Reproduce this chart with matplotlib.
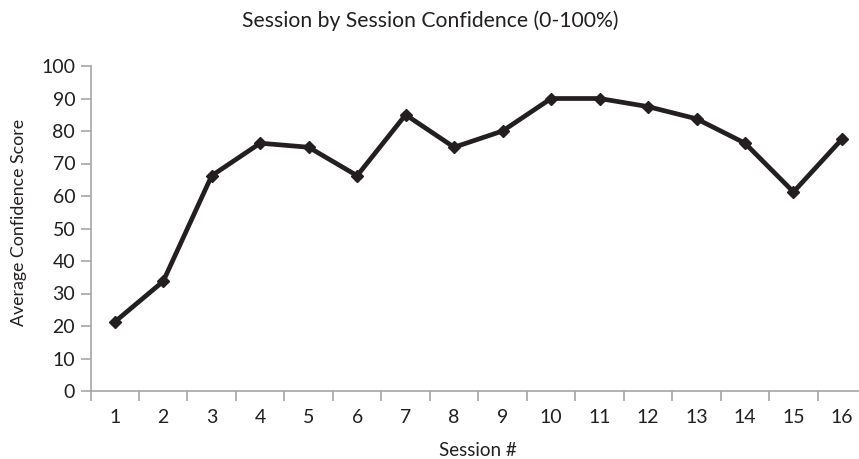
import matplotlib
matplotlib.use("Agg")
import matplotlib.pyplot as plt
import numpy as np

sessions = list(range(1, 17))
session_labels = [str(s) for s in sessions]
confidence = [21.25, 33.75, 66.25, 76.25, 75, 66.25, 85, 75, 80, 90, 90, 87.5, 83.75, 76.25, 61.25, 77.5]
y_ticks = list(range(0, 101, 10))

plt.rcParams['font.family'] = ['Lato', 'DejaVu Sans']
text_color = '#231f20'
spine_color = '#a6a6a6'

W, H = 859, 459
fig = plt.figure(figsize=(W / 100, H / 100), dpi=100)
ax = fig.add_axes([90.5 / W, 1 - 391 / H, 775.7 / W, 325 / H])

ax.plot(sessions, confidence, color='#231f20', linewidth=3.4, marker='D', markersize=6.5,
        solid_joinstyle='miter', clip_on=False)

ax.set_xlim(0.5, 16.5)
ax.set_ylim(0, 100)
ax.set_yticks(y_ticks)
ax.set_yticklabels([str(v) for v in y_ticks])
ax.set_xticks(sessions)
ax.set_xticklabels(session_labels)
ax.set_xticks(np.arange(0.5, 17, 1), minor=True)

for s in ['top', 'right']:
    ax.spines[s].set_visible(False)
for s in ['left', 'bottom']:
    ax.spines[s].set_color(spine_color)
    ax.spines[s].set_linewidth(1.2)

ax.tick_params(axis='x', which='major', length=0, pad=13, labelsize=14, labelcolor=text_color)
ax.tick_params(axis='x', which='minor', length=7, width=1.2, color=spine_color, direction='out')
ax.tick_params(axis='y', which='major', length=7, width=1.2, color=spine_color, pad=4,
               labelsize=14, labelcolor=text_color)

fig.text(430 / W, 1 - 21 / H, 'Session by Session Confidence (0-100%)', ha='center', va='center',
         fontsize=15.2, color=text_color)
fig.text(478 / W, 1 - 450 / H, 'Session #', ha='center', va='center', fontsize=13.5, color=text_color)
fig.text(19 / W, 1 - 222.5 / H, 'Average Confidence Score', ha='center', va='center', rotation=90,
         fontsize=12.8, color=text_color)

fig.savefig('out.png', dpi=100)
